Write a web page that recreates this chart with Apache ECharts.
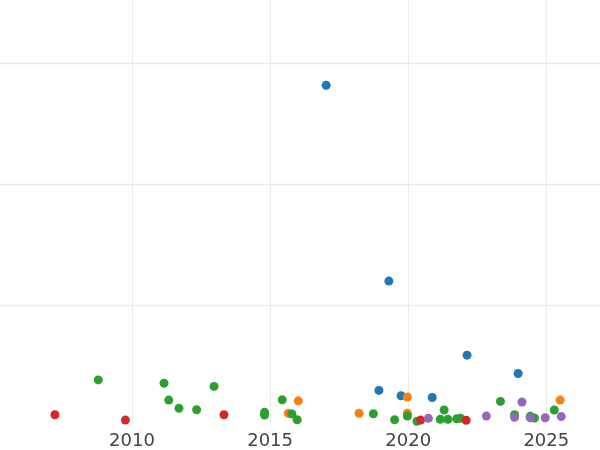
<!DOCTYPE html>
<html>
<head>
<meta charset="utf-8">
<script src="https://cdn.jsdelivr.net/npm/echarts@6/dist/echarts.min.js"></script>
<style>html,body{margin:0;padding:0;background:#fff}#c{width:600px;height:450px}</style>
</head>
<body>
<div id="c"></div>
<script>
// Tick labels on the x axis, gridline values on the y axis
var xTicks = [2010, 2015, 2020, 2025];
var yTicks = [1, 2, 3];

// Series (year, value)
var blueX   = [2017.03, 2019.30, 2022.13, 2018.94, 2019.74, 2020.87, 2023.98];
var blueY   = [2.815, 1.197, 0.585, 0.294, 0.250, 0.235, 0.434];

var orangeX = [2015.66, 2016.02, 2018.22, 2019.97, 2019.97, 2025.50];
var orangeY = [0.105, 0.208, 0.105, 0.239, 0.105, 0.214];

var greenX  = [2008.78, 2011.16, 2011.33, 2011.70, 2012.34, 2012.97, 2014.80, 2014.80, 2015.44, 2015.79, 2015.98,
               2018.74, 2019.51, 2019.97, 2020.32, 2021.16, 2021.30, 2021.44, 2021.76, 2021.90, 2023.34, 2023.85,
               2024.42, 2024.57, 2025.29];
var greenY  = [0.381, 0.354, 0.214, 0.146, 0.134, 0.327, 0.113, 0.091, 0.216, 0.099, 0.052,
               0.101, 0.052, 0.082, 0.039, 0.055, 0.132, 0.055, 0.060, 0.063, 0.203, 0.093,
               0.080, 0.066, 0.132];

var redX    = [2007.21, 2009.76, 2013.33, 2020.45, 2022.10];
var redY    = [0.093, 0.049, 0.093, 0.049, 0.047];

var purpleX = [2020.73, 2022.83, 2023.85, 2024.12, 2024.42, 2024.96, 2025.54];
var purpleY = [0.063, 0.082, 0.072, 0.198, 0.068, 0.068, 0.078];

function pairs(xs, ys) { return xs.map(function (x, i) { return [x, ys[i]]; }); }

var colors = ['#1f77b4', '#ff7f0e', '#2ca02c', '#d62728', '#9467bd'];
var seriesData = [pairs(blueX, blueY), pairs(orangeX, orangeY), pairs(greenX, greenY), pairs(redX, redY), pairs(purpleX, purpleY)];

var chart = echarts.init(document.getElementById('c'), null, { renderer: 'canvas' });
chart.setOption({
  animation: false,
  backgroundColor: '#ffffff',
  grid: { left: 0, right: 0, top: 0, bottom: 22.5, containLabel: false },
  xAxis: {
    type: 'value', min: 2005.221, max: 2026.944,
    axisLine: { show: false },
    axisTick: { show: false, customValues: xTicks },
    axisLabel: {
      show: true, margin: 6, color: '#444444', fontSize: 18, fontFamily: 'DejaVu Sans',
      customValues: xTicks,
      formatter: function (v) { return String(v); }
    },
    splitLine: { show: true, lineStyle: { color: '#ebebeb', width: 1 } }
  },
  yAxis: {
    type: 'value', min: 0, max: 3.519,
    axisLine: { show: false },
    axisTick: { show: false, customValues: yTicks },
    axisLabel: { show: false, customValues: yTicks },
    splitLine: { show: true, lineStyle: { color: '#ebebeb', width: 1.3 } }
  },
  series: seriesData.map(function (d, i) {
    return {
      type: 'scatter', data: d, symbol: 'circle', symbolSize: 9,
      itemStyle: { color: colors[i], opacity: 1 }, clip: true
    };
  })
});
</script>
</body>
</html>
